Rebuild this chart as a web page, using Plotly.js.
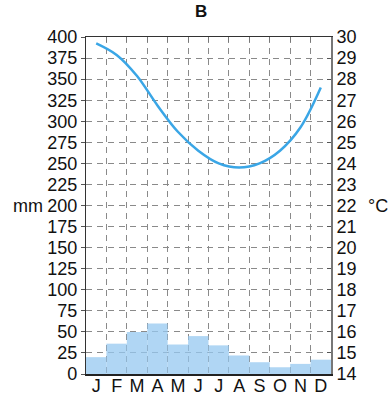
<!DOCTYPE html>
<html>
<head>
<meta charset="utf-8">
<script src="https://cdn.plot.ly/plotly-3.0.1.min.js"></script>
<style>html,body{margin:0;padding:0;background:#fff;}#chart{width:392px;height:397px;}</style>
</head>
<body>
<div id="chart"></div>
<script>
const months = ["J","F","M","A","M","J","J","A","S","O","N","D"];
const monthPos = [0.5,1.5,2.5,3.5,4.5,5.5,6.5,7.5,8.5,9.5,10.5,11.5];
const boundaries = [1,2,3,4,5,6,7,8,9,10,11];
const precipitation = [20,36,50,60,35,45,34,22,14,8,12,17];
const temperature = [29.7,29.15,28.15,26.75,25.5,24.6,24.0,23.8,24.0,24.6,25.7,27.6];
const mmTicks = [0,25,50,75,100,125,150,175,200,225,250,275,300,325,350,375,400];
const cTicks = [14,15,16,17,18,19,20,21,22,23,24,25,26,27,28,29,30];

const font = {family: "Liberation Sans, Arial, sans-serif", size: 18, color: "#111"};
const gridDash = "6px,5px";

const traces = [
  {type: "bar", x: monthPos, y: precipitation, width: 1, marker: {color: "rgba(150,200,240,0.75)", line: {width: 0}}, xaxis: "x", yaxis: "y", hoverinfo: "none"},
  {type: "scatter", mode: "lines", x: monthPos, y: temperature, line: {color: "#3aa6e6", width: 2.5, shape: "spline", smoothing: 1}, xaxis: "x2", yaxis: "y2", hoverinfo: "none"}
];

const layout = {
  width: 392, height: 397,
  margin: {l: 86, r: 61, t: 37, b: 23},
  paper_bgcolor: "#fff", plot_bgcolor: "#fff",
  showlegend: false,
  font: font,
  title: {text: "<b>B</b>", x: 0.513, xanchor: "center", y: 0.988, yanchor: "top", font: {family: font.family, size: 17, color: "#111"}},
  xaxis: {range: [0, 12], tickmode: "array", tickvals: monthPos, ticktext: months, showgrid: false, zeroline: false,
          showline: true, linecolor: "#222", linewidth: 1.5, ticks: "", tickfont: font, ticklabelstandoff: -5, fixedrange: true},
  xaxis2: {range: [0, 12], overlaying: "x", side: "top", tickmode: "array", tickvals: boundaries, showticklabels: false,
           ticks: "inside", ticklen: 5, tickcolor: "#777", showgrid: true, gridcolor: "#8a8a8a", griddash: gridDash, gridwidth: 1,
           zeroline: false, showline: true, linecolor: "#333", linewidth: 1.5},
  yaxis: {range: [0, 400], tickmode: "array", tickvals: mmTicks, showgrid: true, gridcolor: "#8a8a8a", griddash: gridDash, gridwidth: 1,
          zeroline: false, showline: true, linecolor: "#333", linewidth: 1.2, ticks: "outside", ticklen: 4, tickcolor: "#555",
          tickfont: font, ticklabelstandoff: 0},
  yaxis2: {range: [14, 30], overlaying: "y", side: "right", tickmode: "array", tickvals: cTicks, showgrid: false, zeroline: false,
           showline: true, linecolor: "#777", linewidth: 2, ticks: "inside", ticklen: 4, tickcolor: "#555", tickfont: font},
  annotations: [
    {text: "mm", xref: "paper", yref: "paper", x: -0.235, y: 0.5, xanchor: "center", yanchor: "middle", showarrow: false, font: font},
    {text: "°C", xref: "paper", yref: "paper", x: 1.19, y: 0.5, xanchor: "center", yanchor: "middle", showarrow: false, font: font}
  ]
};

Plotly.newPlot("chart", traces, layout, {staticPlot: true, displayModeBar: false});
</script>
</body>
</html>
